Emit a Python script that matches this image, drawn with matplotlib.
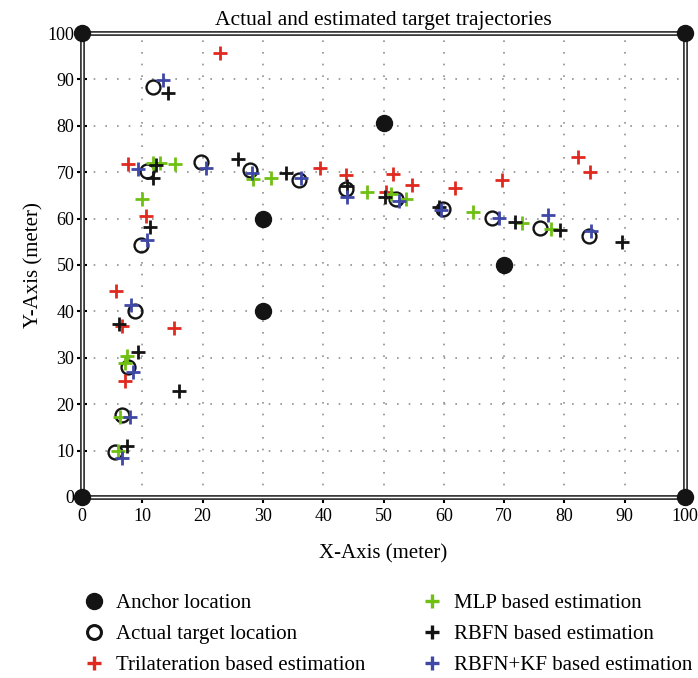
import matplotlib
matplotlib.use("Agg")
import matplotlib.pyplot as plt
from matplotlib.lines import Line2D

plt.rcParams['font.family'] = ['Liberation Serif', 'DejaVu Serif']

# anchor nodes
anchor_x = [0, 0, 100, 100, 50, 30, 30, 70]
anchor_y = [0, 100, 100, 0, 80.5, 60, 40, 50]

# true target path
actual_x = [5.5, 6.6, 7.6, 8.8, 9.8, 10.7, 11.8, 19.7, 27.9, 36.0, 43.8, 52.0, 59.9, 67.9, 76.0, 84.0]
actual_y = [9.7, 17.7, 28.0, 40.1, 54.3, 70.3, 88.4, 72.3, 70.5, 68.3, 66.4, 64.2, 62.1, 60.1, 58.0, 56.3]

# trilateration
tri_x = [5.6, 6.7, 15.3, 7.1, 7.6, 10.6, 22.9, 39.5, 43.7, 51.6, 54.8, 50.4, 61.9, 69.6, 84.2, 82.2]
tri_y = [44.5, 36.9, 36.5, 24.9, 71.8, 60.6, 95.7, 71.0, 69.4, 69.6, 67.2, 65.7, 66.7, 68.3, 70.1, 73.3]

# MLP
mlp_x = [5.9, 6.3, 7.4, 7.1, 10.0, 11.8, 13.0, 15.4, 28.4, 31.3, 47.3, 51.2, 53.7, 64.9, 73.0, 77.8]
mlp_y = [9.9, 17.3, 30.4, 28.8, 64.2, 72.0, 71.9, 71.8, 68.5, 68.7, 65.7, 65.2, 64.2, 61.4, 59.0, 57.7]

# RBFN
rbf_x = [7.4, 16.1, 9.3, 6.2, 11.3, 11.7, 12.3, 14.3, 25.8, 33.9, 44.0, 50.2, 59.2, 71.8, 79.2, 89.5]
rbf_y = [11.0, 22.9, 31.3, 37.3, 58.1, 68.7, 71.5, 87.0, 72.8, 69.9, 67.0, 64.6, 62.5, 59.2, 57.5, 55.0]

# RBFN + Kalman filter
kf_x = [6.7, 8.0, 8.5, 8.2, 10.8, 9.3, 13.5, 20.6, 28.2, 36.3, 44.0, 52.5, 59.6, 69.2, 77.2, 84.4]
kf_y = [8.3, 17.2, 27.0, 41.4, 55.4, 70.6, 89.9, 70.8, 69.9, 68.7, 64.6, 63.9, 61.9, 60.1, 60.8, 57.3]

RED = '#e0291f'
GREEN = '#6fc012'
BLACK = '#141414'
BLUE = '#3f48a6'

fig = plt.figure(figsize=(6.98, 6.78), dpi=100)
ax = fig.add_axes([0.1175, 0.267, 0.864, 0.6843])

ax.set_xlim(0, 100)
ax.set_ylim(0, 100)
ax.set_xticks(range(0, 101, 10))
ax.set_yticks(range(0, 101, 10))
ax.grid(True, color='#909090', linestyle=(0, (1, 6)), linewidth=1.2)
ax.tick_params(axis='x', direction='out', length=4, width=1.5, labelsize=13, pad=4)
ax.tick_params(axis='y', direction='inout', length=7, width=1.5, labelsize=13, pad=2)

ms_plus = 10.5
mew_plus = 2.0
ax.plot(actual_x, actual_y, 'o', ms=10, mfc='none', mec=BLACK, mew=1.7, ls='none', zorder=3)
ax.plot(tri_x, tri_y, '+', ms=ms_plus, mew=mew_plus, color=RED, ls='none', zorder=4)
ax.plot(mlp_x, mlp_y, '+', ms=ms_plus, mew=mew_plus, color=GREEN, ls='none', zorder=5)
ax.plot(rbf_x, rbf_y, '+', ms=ms_plus, mew=mew_plus, color=BLACK, ls='none', zorder=6)
ax.plot(kf_x, kf_y, '+', ms=ms_plus, mew=mew_plus, color=BLUE, ls='none', zorder=7)
ax.plot(anchor_x, anchor_y, 'o', ms=11.5, color=BLACK, ls='none', zorder=8, clip_on=False)

# double-line frame
for s in ax.spines.values():
    s.set_linewidth(3.6)
    s.set_color('#3a3a3a')
ax.plot([0, 100, 100, 0, 0], [0, 0, 100, 100, 0], color='white', lw=1.0,
        clip_on=False, zorder=2.6)

ax.set_title('Actual and estimated target trajectories', fontsize=15.5, pad=6)
ax.set_xlabel('X-Axis (meter)', fontsize=15, labelpad=14)
ax.set_ylabel('Y-Axis (meter)', fontsize=15, labelpad=3)

handles = [
    Line2D([], [], marker='o', ls='none', ms=11.5, color=BLACK),
    Line2D([], [], marker='o', ls='none', ms=10, mfc='none', mec=BLACK, mew=2.2),
    Line2D([], [], marker='+', ls='none', ms=ms_plus, mew=2.4, color=RED),
    Line2D([], [], marker='+', ls='none', ms=ms_plus, mew=2.4, color=GREEN),
    Line2D([], [], marker='+', ls='none', ms=ms_plus, mew=2.4, color=BLACK),
    Line2D([], [], marker='+', ls='none', ms=ms_plus, mew=2.4, color=BLUE),
]
labels = ['Anchor location', 'Actual target location', 'Trilateration based estimation',
          'MLP based estimation', 'RBFN based estimation', 'RBFN+KF based estimation']
fig.legend(handles, labels, ncol=2, loc='upper left', bbox_to_anchor=(0.105, 0.14),
           frameon=False, fontsize=15, handlelength=1.0, handletextpad=0.55,
           columnspacing=2.7, labelspacing=0.55, borderpad=0)

fig.savefig('out.png', dpi=100)
